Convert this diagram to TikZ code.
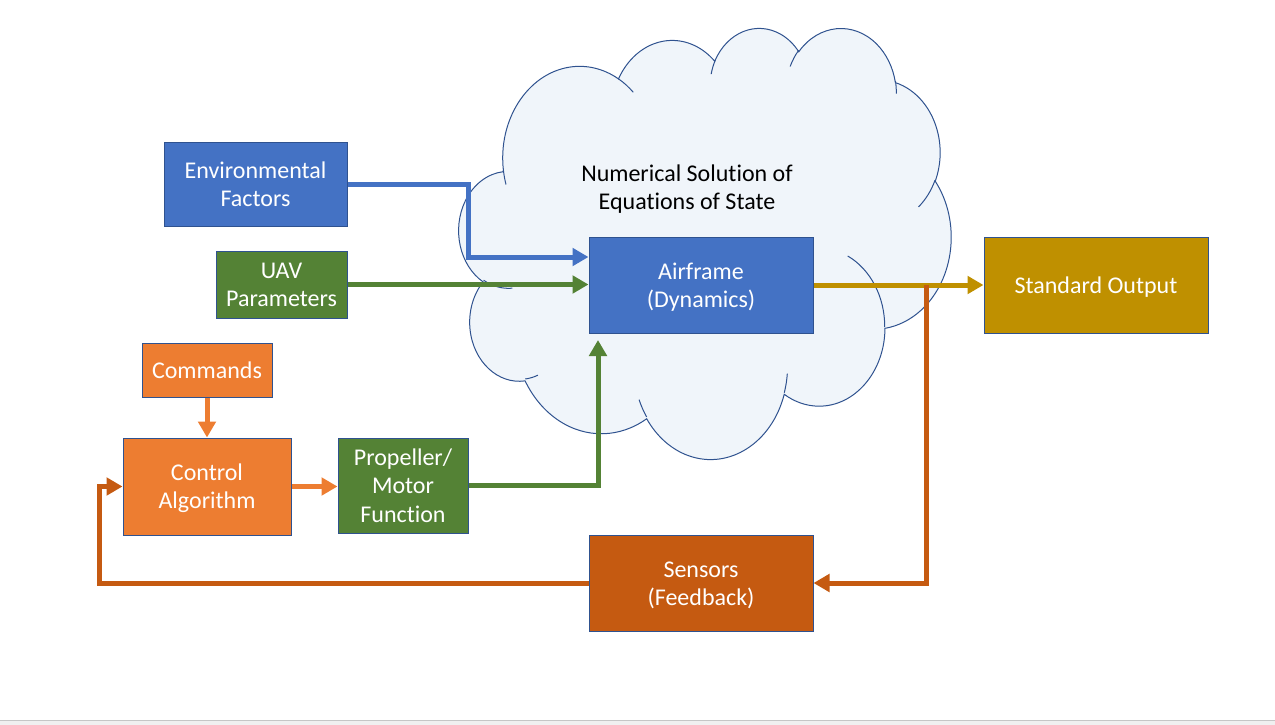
\documentclass[tikz,border=0pt]{standalone}
\usepackage{fontspec}
\setmainfont{Carlito}[Ligatures=NoCommon]
\usetikzlibrary{arrows.meta}

\definecolor{accblue}{HTML}{4472C4}
\definecolor{accgreen}{HTML}{548235}
\definecolor{accorange}{HTML}{ED7D31}
\definecolor{accrust}{HTML}{C55A11}
\definecolor{accgold}{HTML}{BF9000}
\definecolor{edgeblue}{HTML}{2F528F}
\definecolor{cloudfill}{HTML}{F0F5FA}
\definecolor{stripgrey}{HTML}{F0F0F0}
\definecolor{stripline}{HTML}{C6C6C6}

\newcommand\topfix{\rule{0pt}{17.1pt}}

% visual angle of an ellipse -> parametric angle
\pgfmathdeclarefunction{parang}{3}{%
  \begingroup
  \pgfmathsetmacro\pdiff{atan2(#2*sin(#1),#3*cos(#1))-(#1)}%
  \pgfmathparse{#1+(\pdiff)-360*round((\pdiff)/360)}%
  \pgfmathsmuggle\pgfmathresult
  \endgroup}

\tikzset{
  pptext/.style={align=center, inner sep=0pt,
    execute at end node={\rule[-4.8pt]{0pt}{4.8pt}}},
  block/.style={pptext, draw=edgeblue, line width=0.75pt, text=white},
  flow/.style={line width=3.75pt, -{Triangle[length=12pt,width=13pt]}},
  puff/.style n args={4}{x radius=#1, y radius=#2,
    start angle={parang(#3,#1,#2)}, end angle={parang(#4,#1,#2)}},
}

\begin{document}
\begin{tikzpicture}[x=0.75pt,y=-0.75pt,font=\fontsize{18}{21.3}\selectfont]
    \useasboundingbox (0,0) rectangle (1275,725);
    \fill[stripgrey] (0,720) rectangle (1275,725);
    \draw[stripline, line width=0.75pt] (0,720) -- (1275,720);

    % cloud
    \begin{scope}[shift={(459,27)},x=0.854167pt,y=-0.748264pt]
      \filldraw[draw=edgeblue, fill=cloudfill, line width=0.75pt] (39.00,143.70)
        arc[puff={67.53}{91.90}{-190.48748}{-66.70695}]
        arc[puff={53.33}{72.67}{-144.10238}{-54.15715}]
        arc[puff={43.65}{59.45}{-145.80792}{-46.0849}]
        arc[puff={48.57}{65.95}{-130.98607}{-13.74433}]
        arc[puff={53.33}{72.73}{-78.70888}{30.31803}]
        arc[puff={67.75}{92.20}{-46.26725}{84.00175}]
        arc[puff={57.85}{78.67}{0.62502}{114.65835}]
        arc[puff={67.52}{92.15}{22.4516}{137.62415}]
        arc[puff={77.20}{105.43}{66.24263}{141.95365}]
        arc[puff={43.60}{59.18}{-274.94208}{-128.20652}]
        arc[puff={43.45}{59.45}{-246.8285}{-94.30965}]
        -- cycle;
      \draw[edgeblue, line width=0.75pt]
        (46.93,261.77) arc[puff={43.45}{59.45}{86.742}{113.1715}]
        (69.28,348.99) arc[puff={43.60}{59.18}{73.61047}{85.05793}]
        (164.78,390.90) arc[puff={67.52}{92.15}{137.62415}{151.70525}]
        (288.27,347.51) arc[puff={67.52}{92.15}{6.45327}{22.45162}]
        (341.29,229.54) arc[puff={57.85}{78.67}{-70.29235}{0.62502}]
        (417.98,153.54) arc[puff={53.33}{72.73}{30.31803}{58.06953}]
        (383.24,54.26) arc[puff={48.57}{65.95}{-13.74433}{1.11457}]
        (290.78,39.52) arc[puff={48.57}{65.95}{-149.18145}{-130.98608}]
        (221.41,47.20) arc[puff={43.65}{59.45}{-163.49427}{-145.80792}]
        (140.00,51.92) arc[puff={67.53}{91.90}{-66.70695}{-54.3876}]
        (41.27,157.89) arc[puff={67.53}{91.90}{157.65435}{169.51252}];
    \end{scope}
    \node[pptext] (numsol) at (687,187) {\topfix Numerical Solution of\\Equations of State};

    % blocks
    \node[block, fill=accblue, minimum width=137.25pt, minimum height=63pt] (env) at (255.5,184) {\topfix Environmental\\Factors};
    \node[block, fill=accgreen, minimum width=98.25pt, minimum height=50.25pt] (uav) at (281.5,284.5) {\topfix UAV\\Parameters};
    \node[block, fill=accorange, minimum width=97.5pt, minimum height=40.5pt] (cmd) at (207,370) {\topfix Commands};
    \node[block, fill=accorange, minimum width=126pt, minimum height=72.75pt] (ctrl) at (207,486.5) {\topfix Control\\Algorithm};
    \node[block, fill=accgreen, minimum width=97.5pt, minimum height=71.25pt] (prop) at (403,485.5) {\topfix Propeller/\\Motor\\Function};
    \node[block, fill=accblue, minimum width=168pt, minimum height=72pt] (air) at (701,285) {\topfix Airframe\\(Dynamics)};
    \node[block, fill=accgold, minimum width=168pt, minimum height=72pt] (out) at (1096,285) {\topfix Standard Output};
    \node[block, fill=accrust, minimum width=168pt, minimum height=72pt] (sens) at (701,583) {\topfix Sensors\\(Feedback)};

    \coordinate (envknee) at (468,257);
    \coordinate (airin) at (598,340);
    \coordinate (split) at (926,285);
    \coordinate (loopknee) at (99,583);

    \draw[flow, accblue] (env.east) -| (envknee) -- (air.west |- envknee);
    \draw[flow, accgreen] (uav.east) -- (air.west |- uav.east);
    \draw[flow, accorange] (cmd.south) -- (ctrl.north);
    \draw[flow, accorange] (ctrl.east) -- (prop.west |- ctrl.east);
    \draw[flow, accgreen] (prop.east) -| (airin);
    \draw[flow, accgold] (air.east) -- (out.west);
    \draw[flow, accrust] (split) |- (sens.east);
    \draw[flow, accrust] (sens.west) -- (loopknee) |- (ctrl.west);
  \end{tikzpicture}
\end{document}
